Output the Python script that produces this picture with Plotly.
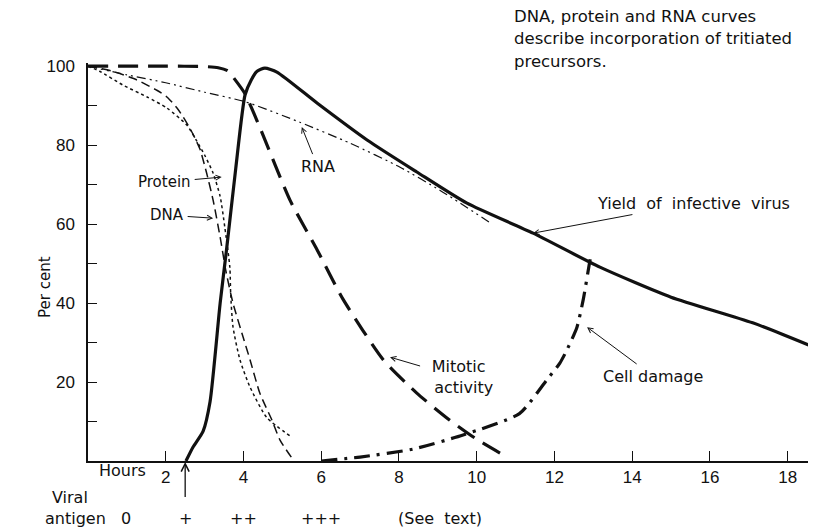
import plotly.graph_objects as go

# ---- data (hours, per cent) ----
yield_x = [2.52, 2.7, 2.96, 3.14, 3.4, 3.57, 3.8, 4.04, 4.2, 4.35, 4.55, 4.86, 5.9, 7.18, 8.46, 9.75, 11.45, 13.17, 15.0, 17.1, 18.73]
yield_y = [0, 3.5, 7.5, 15, 40, 54, 74, 92.7, 96.5, 98.7, 99.5, 98.5, 90.6, 81.3, 73.2, 65.3, 57.7, 49.1, 41.5, 35, 28.6]

mitotic_x = [0, 2.0, 3.0, 3.35, 3.6, 3.75, 4.04, 4.42, 5.2, 5.9, 6.56, 7.6, 8.46, 9.3, 10.0, 10.6]
mitotic_y = [100, 100, 99.9, 99.6, 98.8, 97, 93, 84.5, 66, 53.4, 41, 25.6, 17.2, 10.4, 5.5, 2]

damage_x = [6.0, 7.0, 8.36, 9.65, 11.1, 11.8, 12.14, 12.32, 12.58, 12.74, 12.9, 12.93]
damage_y = [0, 1, 3, 6.6, 12, 20.5, 24.8, 28.1, 33.9, 40.8, 50, 51.6]

protein_x = [0, 0.3, 0.9, 1.52, 2.03, 2.55, 2.8, 3.0, 3.22, 3.4, 3.52, 3.65, 3.67, 3.73, 3.91, 4.17, 4.6, 5.25]
protein_y = [100, 98.7, 95.2, 92.2, 89.4, 85, 81, 77.5, 72.9, 67, 59.2, 49, 42.5, 34, 25.6, 18.7, 11, 6]

dna_x = [0, 0.6, 1.26, 1.77, 2.03, 2.29, 2.45, 2.62, 2.75, 2.88, 3.05, 3.22, 3.4, 3.55, 3.73, 3.99, 4.17, 4.42, 4.73, 4.94, 5.3]
dna_y = [100, 98.8, 96.5, 93.9, 92.2, 89.4, 87.1, 84.3, 81.8, 79, 73, 66, 56.7, 48, 40, 31.4, 25.6, 17.2, 10.4, 5.3, 0]

rna_x = [0, 1.0, 2.0, 3.0, 4.04, 5.45, 6.74, 8.03, 9.05, 10.4]
rna_y = [100, 97.8, 95.8, 93.4, 91, 85.8, 80.5, 74.4, 68.6, 60]

y_ticks = [10, 20, 30, 40, 50, 60, 70, 80, 90, 100]
y_ticktext = ["", "20", "", "40", "", "60", "", "80", "", "100"]
x_ticks = [2, 4, 6, 8, 10, 12, 14, 16, 18]
x_ticktext = ["2", "4", "6", "8", "10", "12", "14", "16", "18"]

antigen_x = [2.5, 4, 6, 9.05]
antigen_text = ["+", "++", "+++", "(See\u00a0 text)"]

note_lines = ["DNA, protein and RNA curves",
              "describe incorporation of tritiated",
              "precursors."]

FONT = "Liberation Sans"
TFONT = "DejaVu Sans"
INK = "#111111"
NB = "\u00a0"

fig = go.Figure()

def add(x, y, width, dash):
    fig.add_trace(go.Scatter(x=x, y=y, mode="lines",
                             line=dict(color=INK, width=width, dash=dash, shape="spline", smoothing=0.6),
                             hoverinfo="skip", showlegend=False))

add(rna_x, rna_y, 1.2, "9px,4px,2px,4px,2px,4px")
add(protein_x, protein_y, 1.5, "3px,3px")
add(dna_x, dna_y, 1.5, "9px,5px")
add(mitotic_x, mitotic_y, 3.2, "20px,10px")
add(damage_x, damage_y, 3.2, "16px,7px,3px,7px")
add(yield_x, yield_y, 3.2, "solid")

ann = []
def label(text, hx, hy, ax, ay, size=16):
    ann.append(dict(x=hx, y=hy, xref="x", yref="y", text=text, showarrow=True,
                    ax=ax, ay=ay, arrowhead=5, arrowsize=1, arrowwidth=1, arrowcolor=INK,
                    standoff=0, startstandoff=2,
                    font=dict(family=TFONT, size=size, color=INK)))

label("Protein", 3.44, 71.9, -57, 5, 15)
label("DNA", 3.22, 61.5, -46, -3, 15)
label("RNA", 5.5, 84.6, 16, 40, 16)
label("Mitotic<br>" + NB + NB + "activity", 7.77, 26.3, 68, 20, 16)
label("Cell" + NB + "damage", 12.84, 33.9, 66, 49, 16)
label("Yield" + NB + " of" + NB + " infective" + NB + " virus", 11.45, 57.7, 160, -30, 16)

def px(xpix):
    return (xpix - 88) / 728

def py(ypix):
    return (461 - ypix) / 398

def txt(text, x, y, xref="paper", size=16, xanchor="center", angle=0):
    ann.append(dict(x=x, y=y, xref=xref, yref="paper", text=text, showarrow=False,
                    xanchor=xanchor, yanchor="middle", textangle=angle,
                    font=dict(family=TFONT, size=size, color=INK)))

# Hours label next to tick 2
txt("Hours", 0.875, py(470), xref="x")
# Viral antigen row
txt("Viral", px(70), py(497))
txt("antigen", px(108), py(518), xanchor="right")
txt("0", 0.98, py(518), xref="x")
for ax_, t in zip(antigen_x, antigen_text):
    txt(t, ax_, py(518), xref="x")
# upward arrow at 2.5 h
ann.append(dict(x=2.5, y=0, xref="x", yref="y", text=" ", showarrow=True, ax=0, ay=40,
                arrowhead=5, arrowsize=1.2, arrowwidth=1.3, arrowcolor=INK, standoff=1,
                font=dict(size=4)))
# Per cent
txt("Per" + NB + "cent", px(45), py(287), size=15, angle=-90)
# note at top right
for i, line in enumerate(note_lines):
    txt(line, px(512), py(16 + 22.5 * i), size=16.5, xanchor="left")

fig.update_layout(
    width=808, height=521,
    margin=dict(l=80, r=0, t=55, b=68),
    paper_bgcolor="white", plot_bgcolor="white",
    annotations=ann,
    xaxis=dict(range=[0, 18.73], tickvals=x_ticks, ticktext=x_ticktext,
               ticks="inside", ticklen=10, tickwidth=1.3, tickcolor=INK,
               showline=True, linecolor=INK, linewidth=1.5, showgrid=False, zeroline=False,
               tickfont=dict(family=FONT, size=17, color=INK), ticklabelstandoff=0),
    yaxis=dict(range=[0, 100.8], tickvals=y_ticks, ticktext=y_ticktext,
               ticks="inside", ticklen=9, tickwidth=1.3, tickcolor=INK,
               showline=True, linecolor=INK, linewidth=1.5, showgrid=False, zeroline=False,
               tickfont=dict(family=FONT, size=17, color=INK), ticklabelstandoff=8),
)

fig.write_html("out.html")
